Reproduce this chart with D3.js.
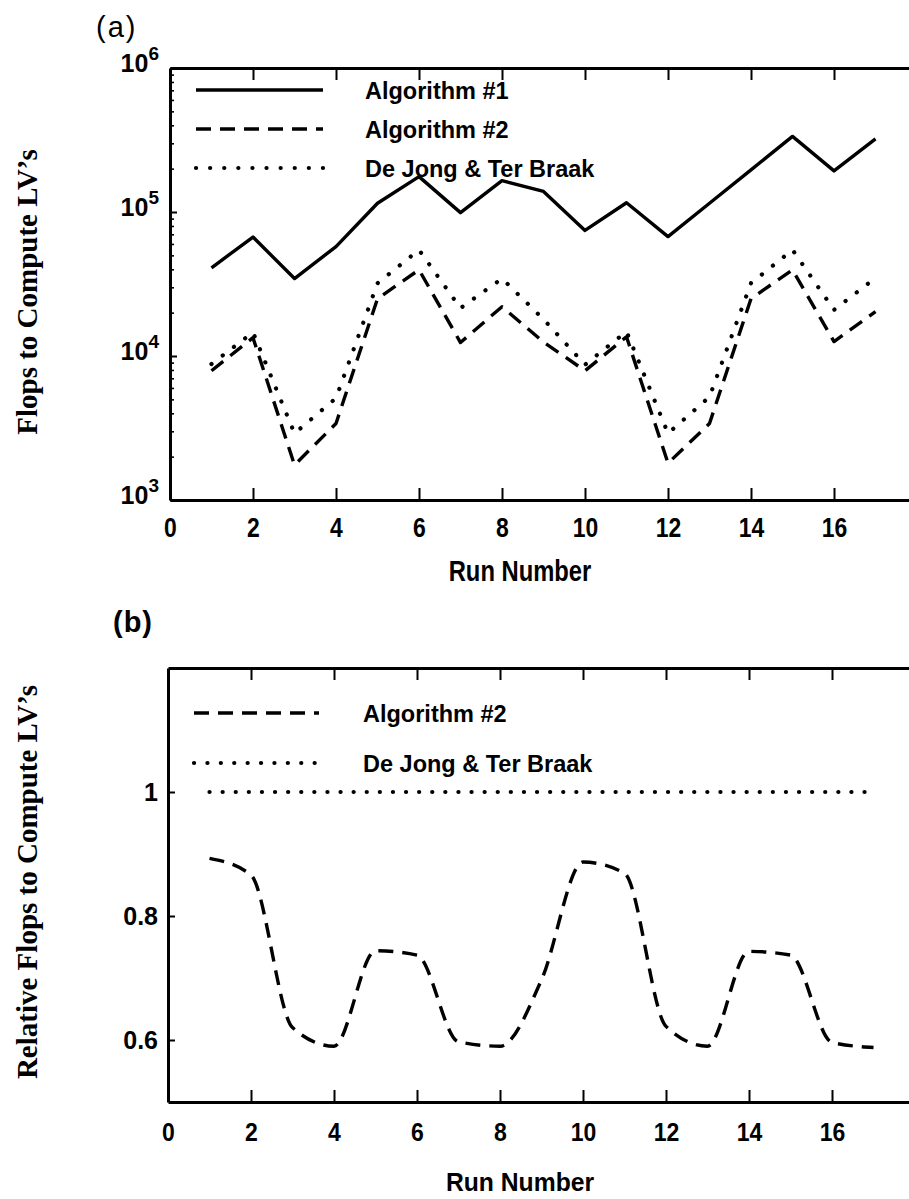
<!DOCTYPE html>
<html>
<head>
<meta charset="utf-8">
<script src="https://cdn.jsdelivr.net/npm/d3@7"></script>
<style>
  body { margin: 0; background: #fff; }
  svg { display: block; }
</style>
</head>
<body>
<svg id="fig" width="909" height="1199"></svg>
<script>
// ---- data ----
const runs = [1, 2, 3, 4, 5, 6, 7, 8, 9, 10, 11, 12, 13, 14, 15, 16, 17];

// (a) flops needed to compute the latent variables
const alg1Flops   = [41000, 67000, 34500, 57500, 115000, 176000, 99000, 165000, 139000,
                     74500, 116000, 67500, 115000, 196000, 335000, 193000, 322000];
const alg2Flops   = [7900, 13400, 1750, 3400, 25000, 39700, 12400, 22000, 12500,
                     7900, 13600, 1800, 3400, 25000, 39700, 12600, 20300];
const dejongFlops = [8800, 14600, 2900, 5100, 32000, 54600, 21500, 34500, 18000,
                     8700, 14800, 2900, 5200, 32000, 54600, 20900, 34900];

// (b) flops relative to De Jong & Ter Braak
const alg2Relative   = [0.893, 0.866, 0.620, 0.590, 0.744, 0.737, 0.597, 0.590, 0.697,
                        0.887, 0.869, 0.622, 0.590, 0.743, 0.737, 0.596, 0.588];
const dejongRelative = [1, 1, 1, 1, 1, 1, 1, 1, 1, 1, 1, 1, 1, 1, 1, 1, 1];

// ticks and labels
const xTicks     = [0, 2, 4, 6, 8, 10, 12, 14, 16];
const logTicks   = [1e3, 1e4, 1e5, 1e6];
const relTicks   = [0.6, 0.8, 1];
const legendA    = ["Algorithm #1", "Algorithm #2", "De Jong & Ter Braak"];
const legendB    = ["Algorithm #2", "De Jong & Ter Braak"];
const xTitle     = "Run Number";
const yTitleA    = "Flops to Compute LV\u2019s";
const yTitleB    = "Relative Flops to Compute LV\u2019s";

// ---- drawing ----
const SANS  = "'Liberation Sans', Arial, Helvetica, sans-serif";
const SERIF = "'Liberation Serif', 'Times New Roman', serif";
const svg = d3.select("#fig");

const lineStyles = {
  solid:  { dash: null,      width: 3.4, cap: "butt"  },
  dashed: { dash: "15,9",    width: 3.4, cap: "butt"  },
  dotted: { dash: "0.1,14",  width: 4.2, cap: "round" }
};
function styleLine(sel, kind) {
  const s = lineStyles[kind];
  sel.attr("fill", "none").attr("stroke", "#000")
     .attr("stroke-width", s.width).attr("stroke-linecap", s.cap)
     .attr("stroke-linejoin", "round");
  if (s.dash) sel.attr("stroke-dasharray", s.dash);
  return sel;
}
function styleAxis(g) {
  g.select(".domain").attr("stroke", "#000").attr("stroke-width", 3);
  g.selectAll(".tick line").attr("stroke", "#000").attr("stroke-width", 2);
}
// text squeezed horizontally around its anchor point
function narrowText(x, y, str, opts) {
  const g = svg.append("g").attr("transform", `translate(${x},${y}) scale(${opts.sx || 1},1)`);
  return g.append("text").text(str)
    .attr("font-family", opts.family || SANS)
    .attr("font-size", opts.size)
    .attr("font-weight", opts.weight || "normal")
    .attr("text-anchor", opts.anchor || "start")
    .attr("letter-spacing", opts.spacing || 0);
}

// ======== panel (a) ========
const xA = d3.scaleLinear().domain([0, 18]).range([170, 917]);
const yA = d3.scaleLog().domain([1e3, 1e6]).range([500, 68]);

const minorA = [];
logTicks.slice(0, -1).forEach(t => { for (let k = 2; k <= 9; k++) minorA.push(t * k); });

svg.append("g").attr("transform", `translate(${xA(0)},0)`)
  .call(d3.axisLeft(yA).tickValues(minorA).tickSizeInner(-4).tickSizeOuter(0).tickFormat(""))
  .call(g => { g.select(".domain").remove(); g.selectAll(".tick line").attr("stroke", "#000").attr("stroke-width", 1.6); });

const gyA = svg.append("g").attr("transform", `translate(${xA(0)},0)`)
  .call(d3.axisLeft(yA).tickValues(logTicks).tickSizeInner(-7).tickSizeOuter(0).tickPadding(11).tickFormat(""))
  .call(styleAxis);
gyA.selectAll(".tick text").each(function (d) {
  const t = d3.select(this).attr("font-family", SANS).attr("font-weight", "bold")
    .attr("fill", "#000").attr("dy", "0.36em");
  t.append("tspan").attr("font-size", 25).text("10");
  t.append("tspan").attr("font-size", 19).attr("dy", "-0.62em").text(Math.round(Math.log10(d)));
});

const gxA = svg.append("g").attr("transform", `translate(0,${yA(1e3)})`)
  .call(d3.axisBottom(xA).tickValues(xTicks).tickSizeInner(-12).tickSizeOuter(0).tickPadding(18).tickFormat(d3.format("d")))
  .call(styleAxis);
gxA.selectAll(".tick text").attr("font-family", SANS).attr("font-size", 27)
  .attr("font-weight", "bold").attr("fill", "#000").attr("transform", "scale(0.85,1)");

svg.append("g").attr("transform", `translate(0,${yA(1e6)})`)
  .call(d3.axisTop(xA).tickValues(xTicks.slice(1)).tickSizeInner(-12).tickSizeOuter(0).tickFormat(""))
  .call(styleAxis);

const lineA = d3.line().x((d, i) => xA(runs[i])).y(d => yA(d));
styleLine(svg.append("path").datum(alg1Flops).attr("d", lineA), "solid");
styleLine(svg.append("path").datum(alg2Flops).attr("d", lineA), "dashed");
styleLine(svg.append("path").datum(dejongFlops).attr("d", lineA), "dotted");

// legend (a)
const legARows = [[legendA[0], "solid", 90], [legendA[1], "dashed", 129], [legendA[2], "dotted", 168]];
legARows.forEach(([label, kind, y]) => {
  styleLine(svg.append("line").attr("x1", 196).attr("x2", 323).attr("y1", y).attr("y2", y), kind);
  narrowText(365, y + 9, label, { size: 23.5, weight: "bold" });
});

narrowText(96, 37, "(a)", { size: 29, spacing: 2 });
narrowText(520, 581, xTitle, { size: 29, weight: "bold", anchor: "middle", sx: 0.82 });
svg.append("text").attr("transform", "translate(37,292) rotate(-90)")
  .attr("text-anchor", "middle").attr("font-family", SERIF).attr("font-weight", "bold")
  .attr("font-size", 29).text(yTitleA);

// ======== panel (b) ========
const xB = d3.scaleLinear().domain([0, 18]).range([168, 915]);
const yB = d3.scaleLinear().domain([0.5, 1.2]).range([1102, 668]);

const gyB = svg.append("g").attr("transform", `translate(${xB(0)},0)`)
  .call(d3.axisLeft(yB).tickValues(relTicks).tickSizeInner(-7).tickSizeOuter(0).tickPadding(10)
        .tickFormat(d => d === 1 ? "1" : d3.format(".1f")(d)))
  .call(styleAxis);
gyB.selectAll(".tick text").attr("font-family", SANS).attr("font-size", 25)
  .attr("font-weight", "bold").attr("fill", "#000");

const gxB = svg.append("g").attr("transform", `translate(0,${yB(0.5)})`)
  .call(d3.axisBottom(xB).tickValues(xTicks).tickSizeInner(-12).tickSizeOuter(0).tickPadding(21).tickFormat(d3.format("d")))
  .call(styleAxis);
gxB.selectAll(".tick text").attr("font-family", SANS).attr("font-size", 25)
  .attr("font-weight", "bold").attr("fill", "#000").attr("transform", "scale(0.92,1)");

svg.append("g").attr("transform", `translate(0,${yB(1.2)})`)
  .call(d3.axisTop(xB).tickValues(xTicks.slice(1)).tickSizeInner(-12).tickSizeOuter(0).tickFormat(""))
  .call(styleAxis);

const lineB = d3.line().x((d, i) => xB(runs[i])).y(d => yB(d));
const curveB = d3.line().curve(d3.curveMonotoneX).x((d, i) => xB(runs[i])).y(d => yB(d));
styleLine(svg.append("path").datum(alg2Relative).attr("d", curveB), "dashed");
styleLine(svg.append("path").datum(dejongRelative).attr("d", lineB), "dotted").attr("stroke-dasharray", "0.1,13");

// legend (b)
const legBRows = [[legendB[0], "dashed", 713], [legendB[1], "dotted", 763]];
legBRows.forEach(([label, kind, y]) => {
  const l = styleLine(svg.append("line").attr("x1", 194).attr("x2", 319).attr("y1", y).attr("y2", y), kind);
  if (kind === "dotted") l.attr("stroke-dasharray", "0.1,13.3");
  narrowText(363, y + 9, label, { size: 23.5, weight: "bold" });
});

narrowText(113, 632, "(b)", { size: 29, weight: "bold", spacing: 1 });
narrowText(520, 1191, xTitle, { size: 26, weight: "bold", anchor: "middle", sx: 0.95 });
svg.append("text").attr("transform", "translate(37,882) rotate(-90)")
  .attr("text-anchor", "middle").attr("font-family", SERIF).attr("font-weight", "bold")
  .attr("font-size", 29).text(yTitleB);
</script>
</body>
</html>
